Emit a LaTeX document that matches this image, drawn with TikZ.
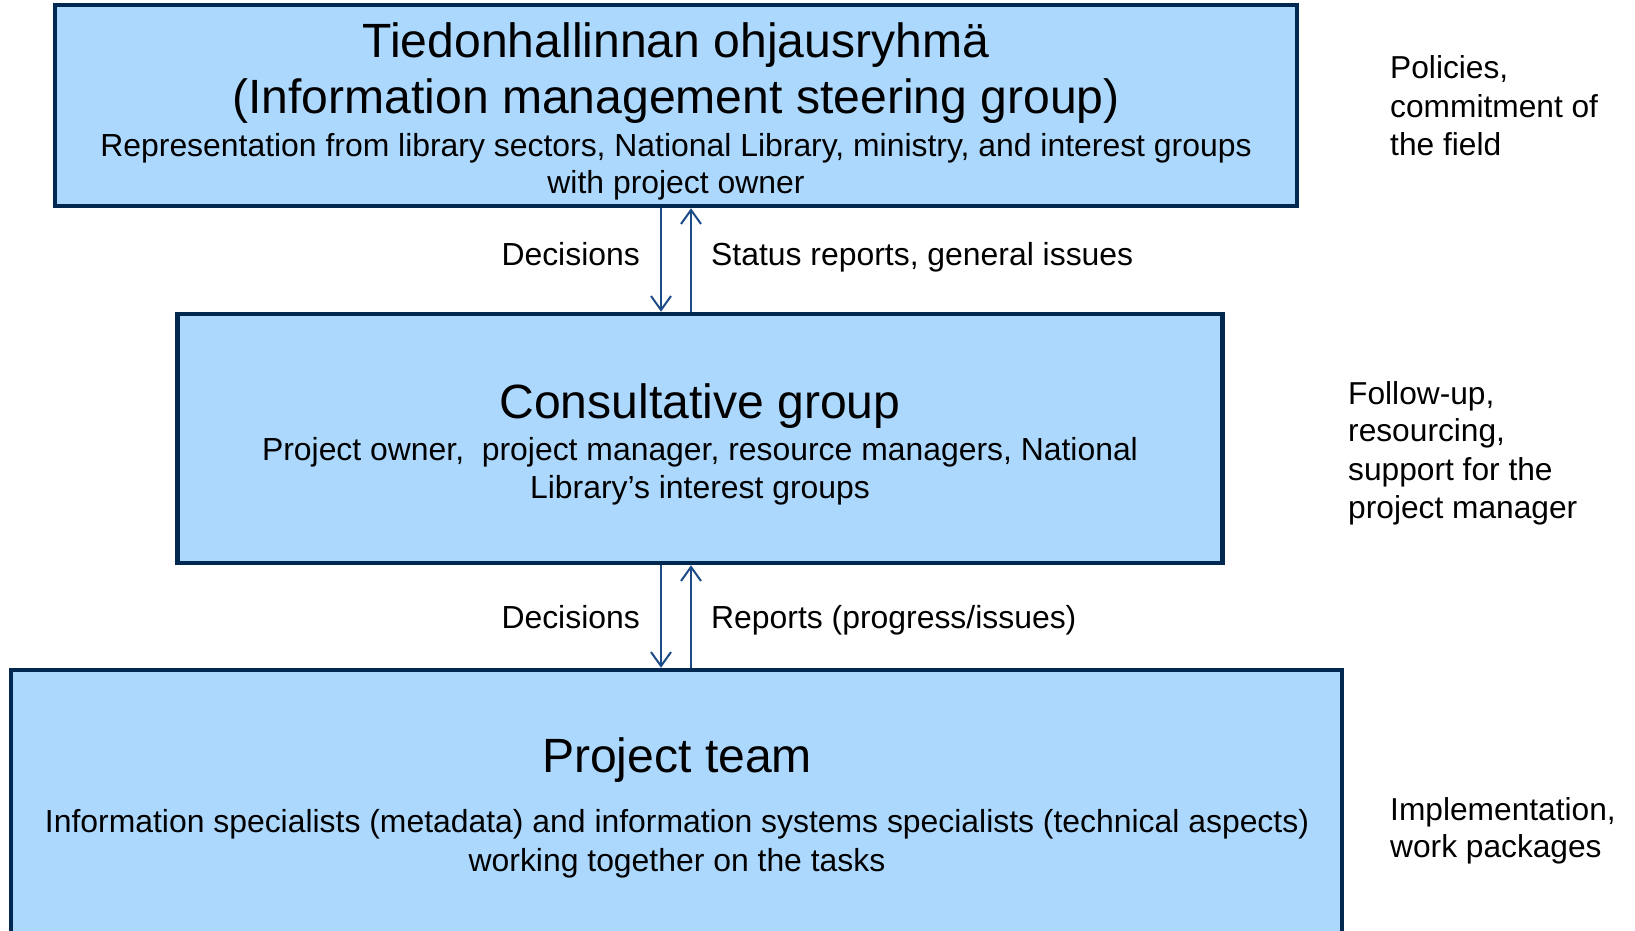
\documentclass[tikz,border=0pt]{standalone}
\usepackage{fontspec}
\setmainfont{Liberation Sans}
\usetikzlibrary{arrows.meta}
\definecolor{boxfill}{RGB}{173,216,254}
\definecolor{boxline}{RGB}{0,40,80}
\definecolor{arrcol}{RGB}{28,76,135}
\tikzset{
  box/.style={draw=boxline, fill=boxfill, line width=4.5pt, inner sep=0pt},
  ttl/.style={font=\fontsize{48.1}{57}\selectfont, anchor=base, inner sep=0pt},
  txt/.style={font=\fontsize{31.9}{38}\selectfont, anchor=base, inner sep=0pt},
  side/.style={font=\fontsize{31.7}{38}\selectfont, anchor=base west, inner sep=0pt},
  arr/.style={draw=arrcol, line width=2pt, -{Straight Barb[length=14pt,width=20pt,line width=2pt]}}
}
\begin{document}
\begin{tikzpicture}[x=1pt,y=-1pt]
\useasboundingbox (0,0) rectangle (1635,930);
\clip (0,0) rectangle (1635,930);
% boxes
\node[box, minimum width=1242pt, minimum height=201pt] (top) at (676,105.5) {};
\node[box, minimum width=1045pt, minimum height=249pt] (mid) at (700,438.5) {};
\node[box, minimum width=1331pt, minimum height=280pt] (bot) at (676.5,810) {};
% top texts
\node[ttl] (t1) at (676,57) {Tiedonhallinnan ohjausryhmä};
\node[ttl] (t2) at (676,113) {(Information management steering group)};
\node[txt] (t3) at (676,156) {Representation from library sectors, National Library, ministry, and interest groups};
\node[txt] (t4) at (676,193) {with project owner};
% middle texts
\node[ttl] (m1) at (700,418) {Consultative group};
\node[txt] (m2) at (700,460) {Project owner,\ \ project manager, resource managers, National};
\node[txt] (m3) at (700,498) {Library’s interest groups};
% bottom texts
\node[ttl] (b1) at (677,772) {Project team};
\node[txt] (b2) at (677,832) {Information specialists (metadata) and information systems specialists (technical aspects)};
\node[txt] (b3) at (677,871) {working together on the tasks};
% arrows
\coordinate (xa) at (661,0);
\coordinate (xb) at (691,0);
\draw[arr] (xa |- top.south) -- (xa |- mid.north);
\draw[arr] (xb |- mid.north) -- (xb |- top.south);
\draw[arr] (xa |- mid.south) -- (xa |- bot.north);
\draw[arr] (xb |- bot.north) -- (xb |- mid.south);
% arrow labels
\node[txt, anchor=base east] (l1) at (640,265) {Decisions};
\node[txt, anchor=base west] (l2) at (711,265) {Status reports, general issues};
\node[txt, anchor=base east] (l3) at (640,628) {Decisions};
\node[txt, anchor=base west] (l4) at (711,628) {Reports (progress/issues)};
% side labels
\node[side] (s1) at (1390,78) {Policies,};
\node[side] (s2) at (1390,117) {commitment of};
\node[side] (s3) at (1390,155) {the field};
\node[side] (f1) at (1348,404) {Follow-up,};
\node[side] (f2) at (1348,441) {resourcing,};
\node[side] (f3) at (1348,480) {support for the};
\node[side] (f4) at (1348,518) {project manager};
\node[side] (i1) at (1390,820) {Implementation,};
\node[side] (i2) at (1390,857) {work packages};
\end{tikzpicture}
\end{document}
